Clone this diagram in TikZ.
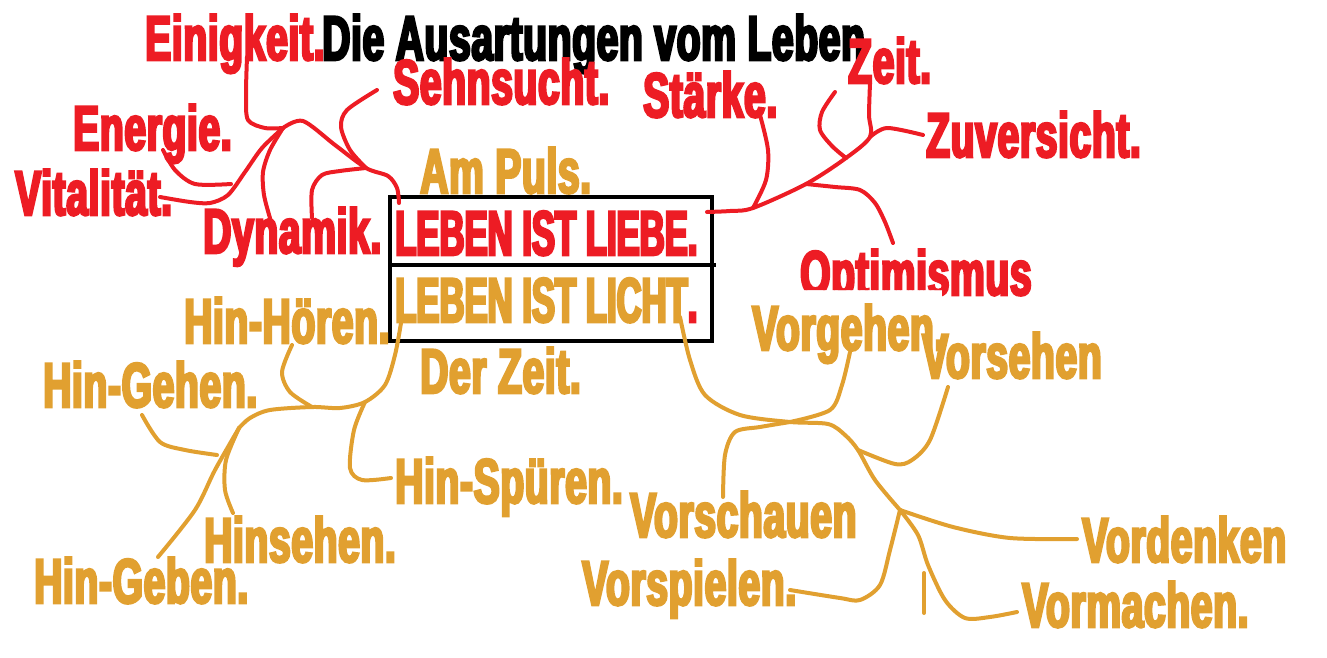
\documentclass[tikz,border=0pt]{standalone}
\usepackage{fontspec}
\newfontfamily\paintfont[FakeStretch=0.62,FakeBold=4,LetterSpace=1]{Liberation Sans}
\newfontfamily\paintcaps[FakeStretch=0.55,FakeBold=4]{Liberation Sans}
\definecolor{paintred}{RGB}{237,28,36}
\definecolor{paintgold}{RGB}{225,160,48}
\tikzset{word/.style={anchor=base west, inner sep=0pt, font=\paintfont\bfseries\fontsize{63}{70}\selectfont},
	redword/.style={word, text=paintred}, goldword/.style={word, text=paintgold},
	capsword/.style={word, font=\paintcaps\bfseries\fontsize{63}{70}\selectfont},
	redline/.style={draw=paintred, line width=4pt, line cap=round, line join=round},
	goldline/.style={draw=paintgold, line width=4pt, line cap=round, line join=round},
	boxline/.style={draw=black, line width=4pt}}

\begin{document}
\begin{tikzpicture}[x=1pt,y=-1pt]
	\useasboundingbox (0,0) rectangle (1327,658);
	\node[redword] (einigkeit) at (145,60) {Einigkeit.};
	\node[word] (titel) at (322,60) {Die Ausartungen vom Leben};
	\node[redword] (sehnsucht) at (393,104) {Sehnsucht.};
	\node[redword] (energie) at (73,150) {Energie.};
	\node[redword] (vitalitaet) at (15,215) {Vitalität.};
	\node[redword] (dynamik) at (203,253) {Dynamik.};
	\node[redword] (staerke) at (643,117) {Stärke.};
	\node[redword] (zeit) at (848,83) {Zeit.};
	\node[redword] (zuversicht) at (926,157) {Zuversicht.};
	\begin{scope}
		\clip (790,240) -- (1040,240) -- (1040,297) -- (942,297) -- (942,290) -- (790,290) -- cycle;
		\node[redword] (optimismus) at (800,295) {Optimismus};
	\end{scope}

	\node[goldword] (ampuls) at (420,193) {Am Puls.};
	\node[capsword, text=paintred] (liebe) at (395,255) {LEBEN IST LIEBE.};
	\node[capsword, text=paintgold] (licht) at (395,322) {LEBEN IST LICHT\textcolor{paintred}{.}};
	\node[goldword] (derzeit) at (420,393) {Der Zeit.};
	\draw[boxline] (390,197) rectangle (712,341);
	\draw[boxline] (390,265) -- (716,265);

	\node[goldword] (hinhoeren) at (184,343) {Hin-Hören.};
	\node[goldword] (hingehen) at (43,407) {Hin-Gehen.};
	\node[goldword] (hinspueren) at (395,503) {Hin-Spüren.};
	\node[goldword] (hinsehen) at (204,562) {Hinsehen.};
	\node[goldword] (hingeben) at (34,603) {Hin-Geben.};
	\node[goldword] (vorgehen) at (752,350) {Vorgehen.};
	\node[goldword] (vorsehen) at (922,378) {Vorsehen};
	\node[goldword] (vorschauen) at (630,537) {Vorschauen};
	\node[goldword] (vordenken) at (1082,562) {Vordenken};
	\node[goldword] (vorspielen) at (582,605) {Vorspielen.};
	\node[goldword] (vormachen) at (1022,627) {Vormachen.};

	% linker roter Ast
	\coordinate (h1) at (283,128);
	\coordinate (h2) at (366,168);
	\coordinate (einigkeitEnd) at (247,57);
	\coordinate (sehnsuchtEnd) at (377,90);
	\coordinate (energieEnd) at (163,150);
	\coordinate (energieTip) at (231,184);
	\coordinate (vitalEnd) at (160,197);
	\coordinate (dynLinks) at (270,218);
	\coordinate (dynRechts) at (312,218);
	\coordinate (liebeNW) at (399,203);
	\draw[redline] plot[smooth] coordinates {(einigkeitEnd) (246,95) (248,120) (265,128) (h1)};
	\draw[redline] plot[smooth] coordinates {(h1) (303,121) (335,145) (h2) (388,176) (397,188) (liebeNW)};
	\draw[redline] plot[smooth] coordinates {(sehnsuchtEnd) (347,110) (341,127) (350,150) (h2)};
	\draw[redline] plot[smooth] coordinates {(dynRechts) (312,190) (322,175) (340,171) (h2)};
	\draw[redline] plot[smooth] coordinates {(energieEnd) (175,170) (195,184) (energieTip)};
	\draw[redline] plot[smooth] coordinates {(vitalEnd) (190,202) (210,203) (228,195) (245,172) (262,148) (h1)};
	\draw[redline] plot[smooth] coordinates {(dynLinks) (264,195) (263,172) (270,150) (h1)};

	% rechter roter Ast
	\coordinate (r1) at (753,208);
	\coordinate (r2) at (806,184);
	\coordinate (r3) at (846,158);
	\coordinate (r4) at (870,137);
	\coordinate (liebeOst) at (707,212);
	\coordinate (staerkeEnd) at (760,115);
	\coordinate (zeitEnd) at (870,83);
	\coordinate (zuversichtEnd) at (923,135);
	\coordinate (hakenEnd) at (835,92);
	\coordinate (optimismusEnd) at (893,243);
	\draw[redline] plot[smooth] coordinates {(liebeOst) (730,211) (r1) (r2) (r3) (r4) (869,115) (zeitEnd)};
	\draw[redline] plot[smooth] coordinates {(staerkeEnd) (768,150) (766,180) (r1)};
	\draw[redline] plot[smooth] coordinates {(r4) (887,128) (zuversichtEnd)};
	\draw[redline] plot[smooth] coordinates {(hakenEnd) (822,112) (820,130) (832,146) (r3)};
	\draw[redline] plot[smooth] coordinates {(r2) (835,187) (860,190) (875,203) (885,222) (optimismusEnd)};

	% linker goldener Ast
	\coordinate (g1) at (365,402);
	\coordinate (g2) at (312,407);
	\coordinate (g3) at (239,428);
	\coordinate (lichtSW) at (401,323);
	\coordinate (hoerenEnd) at (292,345);
	\coordinate (spuerenEnd) at (391,478);
	\coordinate (gehenEnd) at (142,415);
	\coordinate (gehenTip) at (217,455);
	\coordinate (gebenEnd) at (158,557);
	\coordinate (sehenEnd) at (233,513);
	\draw[goldline] plot[smooth] coordinates {(lichtSW) (395,355) (385,385) (g1) (340,408) (g2) (270,410) (250,418) (g3)};
	\draw[goldline] plot[smooth] coordinates {(hoerenEnd) (282,372) (290,392) (g2)};
	\draw[goldline] plot[smooth] coordinates {(g1) (354,430) (350,468) (362,480) (spuerenEnd)};
	\draw[goldline] plot[smooth] coordinates {(gehenEnd) (160,442) (185,450) (gehenTip)};
	\draw[goldline] plot[smooth] coordinates {(g3) (215,470) (195,510) (gebenEnd)};
	\draw[goldline] plot[smooth] coordinates {(g3) (226,460) (225,490) (sehenEnd)};

	% rechter goldener Ast
	\coordinate (v1) at (790,422);
	\coordinate (v2) at (858,450);
	\coordinate (v3) at (900,510);
	\coordinate (lichtSO) at (680,317);
	\coordinate (vorgehenEnd) at (850,352);
	\coordinate (vorsehenEnd) at (948,387);
	\coordinate (vorschauenEnd) at (723,497);
	\coordinate (vordenkenEnd) at (1077,539);
	\coordinate (vorspielenEnd) at (790,590);
	\coordinate (vormachenEnd) at (1017,612);
	\coordinate (stummelOben) at (924,573);
	\coordinate (stummelUnten) at (924,613);
	\draw[goldline] plot[smooth] coordinates {(lichtSO) (690,360) (705,395) (740,415) (v1) (828,424) (845,435) (v2) (875,480) (v3)};
	\draw[goldline] plot[smooth] coordinates {(vorgehenEnd) (842,385) (830,410) (v1)};
	\draw[goldline] plot[smooth] coordinates {(vorsehenEnd) (930,440) (912,460) (895,464) (v2)};
	\draw[goldline] plot[smooth] coordinates {(vorschauenEnd) (725,455) (735,432) (760,427) (v1)};
	\draw[goldline] plot[smooth] coordinates {(v3) (953,527) (1010,538) (vordenkenEnd)};
	\draw[goldline] plot[smooth] coordinates {(v3) (890,550) (880,585) (860,600) (840,598) (vorspielenEnd)};
	\draw[goldline] plot[smooth] coordinates {(v3) (918,535) (928,565) (945,600) (965,618) (990,617) (vormachenEnd)};
	\draw[goldline] (stummelOben) -- (stummelUnten);
\end{tikzpicture}
\end{document}
